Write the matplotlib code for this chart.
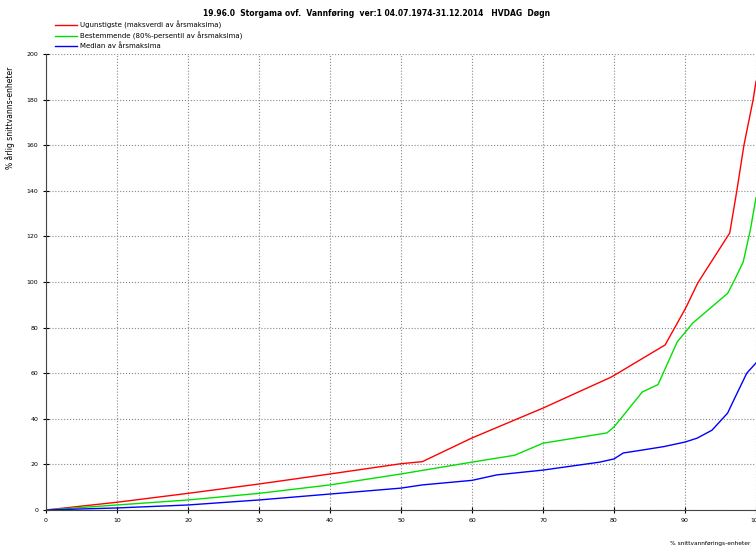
import matplotlib
matplotlib.use("Agg")
import matplotlib.pyplot as plt

# duration in % of time
x_red = [0, 10, 20, 30, 40, 50, 53, 60, 70, 79.4, 80, 87.2, 90.1, 91.8, 96.3, 97.3, 98.3, 99.6, 100]
y_red = [0, 3.4, 7.3, 11.4, 15.8, 20.3, 21.2, 31.6, 44.7, 58, 59, 72.4, 88.6, 99.6, 121.5, 140, 160, 180, 188]

x_green = [0, 10, 20, 30, 40, 50, 60, 66, 70, 79, 80, 84, 86.2, 88.9, 91.1, 96, 97, 98.2, 99.2, 100]
y_green = [0, 2.2, 4.4, 7.3, 11, 15.8, 21, 24, 29.3, 33.8, 36.4, 51.8, 55, 73.7, 82, 95, 101, 108.8, 122.8, 137]

x_blue = [0, 10, 20, 30, 40, 50, 53, 60, 63.5, 70, 78, 80, 81.3, 84, 87, 90, 91.7, 93.8, 96, 97.3, 98.7, 100]
y_blue = [0, 0.9, 2.2, 4.4, 7, 9.6, 11, 13, 15.4, 17.5, 21, 22.4, 25, 26.3, 27.8, 29.8, 31.5, 35, 42.5, 51, 60, 64.5]

labels = ["Ugunstigste (maksverdi av årsmaksima)",
          "Bestemmende (80%-persentil av årsmaksima)",
          "Median av årsmaksima"]

fig = plt.figure(figsize=(7.56, 5.49), dpi=100)
ax = fig.add_axes([46/756, 1 - 510/549, 1 - 46/756, (510 - 54)/549])

ax.plot(x_red, y_red, color="#ff0000", lw=1.0)
ax.plot(x_green, y_green, color="#00e000", lw=1.0)
ax.plot(x_blue, y_blue, color="#0000ff", lw=1.0)

ax.set_xlim(0, 100)
ax.set_ylim(0, 200)
ax.set_xticks(range(0, 101, 10))
ax.set_yticks(range(0, 201, 20))
ax.tick_params(labelsize=4.5, direction="inout", length=4, width=0.8)
ax.grid(True, linestyle=":", color="#888888", lw=0.8)
for s in ["top", "right"]:
    ax.spines[s].set_visible(False)
ax.spines["left"].set_color("#444444")
ax.spines["bottom"].set_color("#444444")

fig.text(377/756, 1 - 13/549, "19.96.0  Storgama ovf.  Vannføring  ver:1 04.07.1974-31.12.2014   HVDAG  Døgn",
         ha="center", va="center", fontsize=5.5, fontweight="bold")

# legend drawn by hand like the original plot header
for i, (lab, col) in enumerate(zip(labels, ["#ff0000", "#00e000", "#0000ff"])):
    yy = 1 - (25 + 10.5 * i) / 549
    fig.add_artist(plt.Line2D([55/756, 77/756], [yy, yy], color=col, lw=1.0))
    fig.text(80/756, yy, lab, ha="left", va="center", fontsize=5)

fig.text(10/756, 1 - 118/549, "% årlig snittvanns-enheter", rotation=90,
         ha="center", va="center", fontsize=5.5)
fig.text(710/756, 1 - 543/549, "% snittvannførings-enheter", ha="center",
         va="center", fontsize=4.2)

fig.savefig("out.png", dpi=100)
